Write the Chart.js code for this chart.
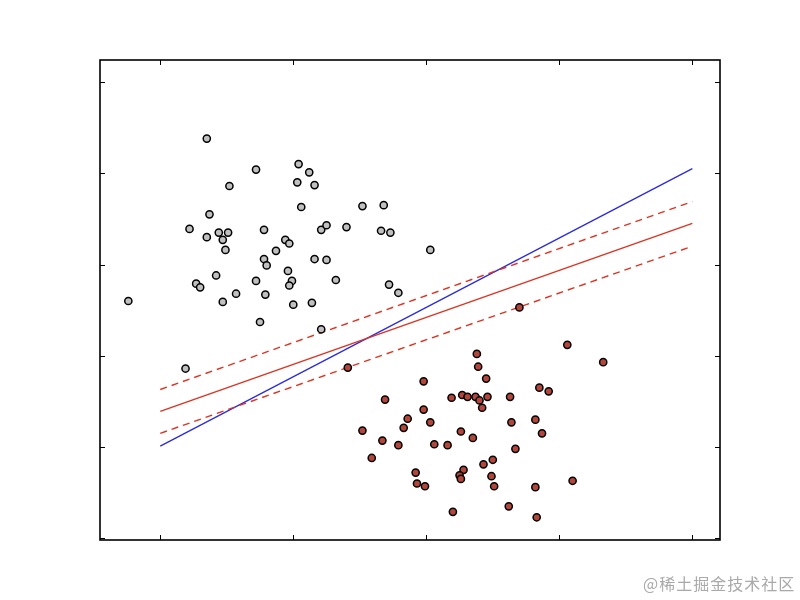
<!DOCTYPE html>
<html>
<head>
<meta charset="utf-8">
<script src="https://cdn.jsdelivr.net/npm/chart.js@4/dist/chart.umd.min.js"></script>
<style>
  body { margin: 0; background: #fff; }
  #wrap { position: relative; width: 800px; height: 600px; }
  #mark {
    position: absolute; left: 643px; top: 571px;
    font-family: "Noto Sans CJK SC", sans-serif; font-size: 16px;
    letter-spacing: 1px; color: #a9a9a9; white-space: nowrap;
  }
</style>
</head>
<body>
<div id="wrap">
  <canvas id="svmChart" width="800" height="600"></canvas>
  <div id="mark">@稀土掘金技术社区</div>
</div>
<script>
// Class 0 (grey blob)
const greyX = [-1.65, -1.28, -1.48, -1.63, -1.78, -1.65, -1.56, -1.49, -1.53, -1.22,
               -1.51, -1.13, -1.22, -1.20, -1.58, -1.73, -1.70, -1.28, -1.43, -1.21,
               -1.53, -2.24, -1.25, -1.81, -0.96, -0.88, -0.97, -0.84, -0.94, -0.48,
               -0.32, -0.79, -0.75, -0.60, -0.34, -0.27, -1.06, -1.03, 0.03, -0.84,
               -0.75, -1.04, -1.01, -1.03, -0.68, -0.28, -0.21, -1.00, -0.86, -0.79];
const greyY = [4.38, 4.04, 3.86, 3.55, 3.39, 3.30, 3.35, 3.35, 3.27, 3.38,
               3.16, 3.15, 3.06, 2.99, 2.88, 2.79, 2.75, 2.82, 2.68, 2.67,
               2.59, 2.60, 2.37, 1.86, 4.10, 4.01, 3.90, 3.87, 3.63, 3.64,
               3.65, 3.38, 3.43, 3.41, 3.37, 3.35, 3.27, 3.23, 3.16, 3.06,
               3.05, 2.93, 2.82, 2.77, 2.83, 2.78, 2.69, 2.56, 2.58, 2.29];

// Class 1 (red blob)
const redX = [1.06, 0.38, 1.33, -0.59, 0.39, -0.02, 0.45, -0.31, 0.85, 0.92,
              0.19, 0.27, 0.31, 0.37, 0.40, 0.42, 0.46, 0.63, -0.02, -0.14,
              0.03, -0.17, 0.64, 0.82, 0.87, -0.48, -0.33, -0.21, 0.06, 0.16,
              0.26, 0.35, 0.67, -0.41, 0.50, 0.43, 0.28, 0.25, 0.26, -0.08,
              -0.07, -0.01, 0.49, 0.51, 0.82, 1.10, 0.62, 0.20, 0.83, 0.70];
const redY = [2.12, 2.02, 1.93, 1.87, 1.88, 1.72, 1.75, 1.52, 1.65, 1.61,
              1.54, 1.57, 1.55, 1.55, 1.51, 1.43, 1.55, 1.55, 1.41, 1.31,
              1.27, 1.21, 1.27, 1.30, 1.15, 1.18, 1.07, 1.02, 1.03, 1.02,
              1.17, 1.10, 0.98, 0.88, 0.86, 0.81, 0.75, 0.69, 0.65, 0.72,
              0.60, 0.57, 0.68, 0.57, 0.56, 0.63, 0.35, 0.29, 0.23, 2.53];

// Decision lines, evaluated at the two ends of lineX
const lineX = [-2, 2];
const blueLineY = [1.01, 4.05];
const svmLineY = [1.39, 3.45];
const marginUpY = [1.63, 3.69];
const marginDownY = [1.15, 3.20];

// Tick positions (labels are hidden in the original)
const xTicks = [-2, -1, 0, 1, 2];
const yTicks = [0, 1, 2, 3, 4, 5];

const toPoints = (xs, ys) => xs.map((x, i) => ({ x: x, y: ys[i] }));

// Axes frame with inward ticks on all four sides
const framePlugin = {
    id: 'frame',
    afterDatasetsDraw(chart) {
        const { ctx, chartArea: a, scales } = chart;
        ctx.save();
        ctx.strokeStyle = '#000';
        ctx.lineWidth = 1;
        ctx.beginPath();
        xTicks.forEach(v => {
            const px = Math.round(scales.x.getPixelForValue(v)) + 0.5;
            ctx.moveTo(px, a.bottom); ctx.lineTo(px, a.bottom - 5);
            ctx.moveTo(px, a.top); ctx.lineTo(px, a.top + 5);
        });
        yTicks.forEach(v => {
            const py = Math.round(scales.y.getPixelForValue(v)) + 0.5;
            ctx.moveTo(a.left, py); ctx.lineTo(a.left + 5, py);
            ctx.moveTo(a.right, py); ctx.lineTo(a.right - 5, py);
        });
        ctx.stroke();
        ctx.lineWidth = 1.6;
        ctx.strokeRect(a.left, a.top, a.right - a.left, a.bottom - a.top);
        ctx.restore();
    }
};

const ctx = document.getElementById('svmChart').getContext('2d');
new Chart(ctx, {
    type: 'scatter',
    data: {
        datasets: [
            {
                label: 'class 0',
                data: toPoints(greyX, greyY),
                backgroundColor: '#c0c0c0',
                borderColor: '#000',
                borderWidth: 1.5,
                pointRadius: 3.6
            },
            {
                label: 'class 1',
                data: toPoints(redX, redY),
                backgroundColor: '#b2463b',
                borderColor: '#000',
                borderWidth: 1.5,
                pointRadius: 3.6
            },
            {
                label: 'margin up',
                data: toPoints(lineX, marginUpY),
                showLine: true,
                borderColor: '#dd3322',
                borderWidth: 1.4,
                borderDash: [7, 5],
                pointRadius: 0
            },
            {
                label: 'margin down',
                data: toPoints(lineX, marginDownY),
                showLine: true,
                borderColor: '#dd3322',
                borderWidth: 1.4,
                borderDash: [7, 5],
                pointRadius: 0
            },
            {
                label: 'svm',
                data: toPoints(lineX, svmLineY),
                showLine: true,
                borderColor: '#dd3322',
                borderWidth: 1.4,
                pointRadius: 0
            },
            {
                label: 'other',
                data: toPoints(lineX, blueLineY),
                showLine: true,
                borderColor: '#2a2ae0',
                borderWidth: 1.3,
                pointRadius: 0
            }
        ]
    },
    options: {
        responsive: false,
        animation: false,
        layout: { padding: { left: 100, top: 60, right: 80, bottom: 60 } },
        plugins: {
            legend: { display: false },
            tooltip: { enabled: false }
        },
        scales: {
            x: { type: 'linear', min: -2.453, max: 2.208, display: false },
            y: { type: 'linear', min: -0.019, max: 5.241, display: false }
        }
    },
    plugins: [framePlugin]
});
</script>
</body>
</html>
